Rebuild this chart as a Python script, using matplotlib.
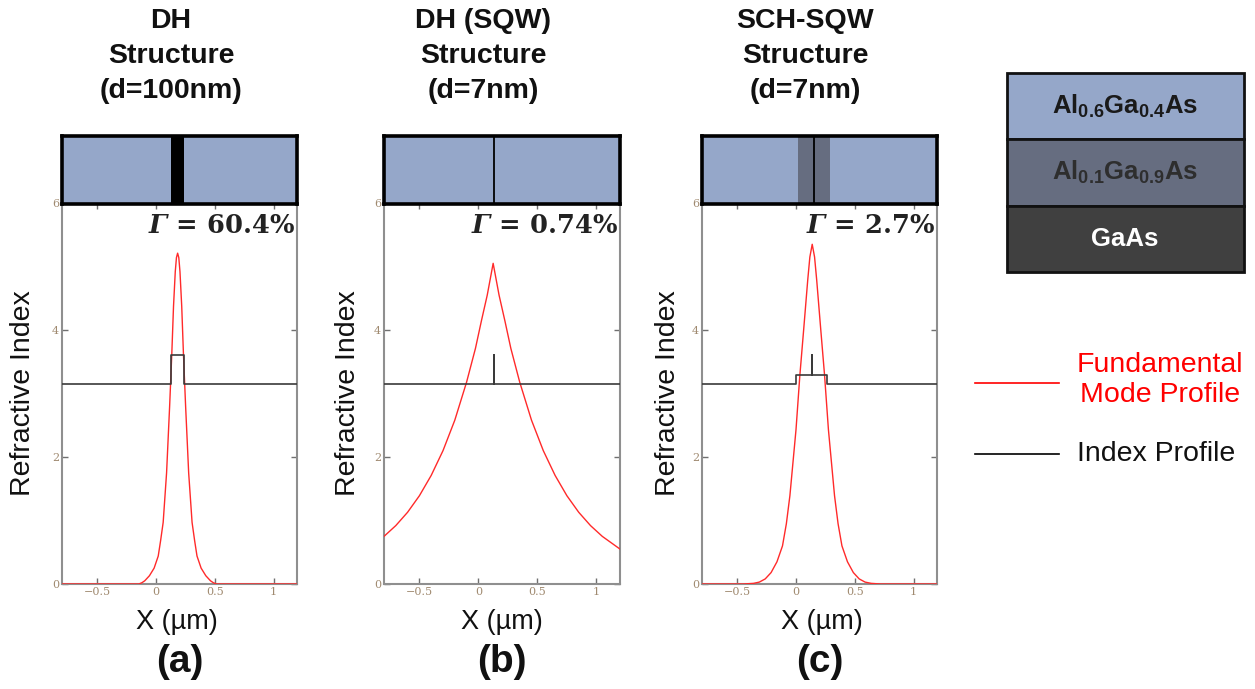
import numpy as np
import matplotlib
matplotlib.use("Agg")
import matplotlib.pyplot as plt
from matplotlib.patches import Rectangle
from matplotlib.lines import Line2D

plt.rcParams['font.family'] = ['Liberation Sans', 'DejaVu Sans']
plt.rcParams['mathtext.fontset'] = 'custom'
plt.rcParams['mathtext.rm'] = 'Liberation Sans'
plt.rcParams['mathtext.bf'] = 'Liberation Sans:bold'

# ---------------- data ----------------
panel_titles = ["DH\nStructure\n(d=100nm)", "DH (SQW)\nStructure\n(d=7nm)", "SCH-SQW\nStructure\n(d=7nm)"]
panel_letters = ["(a)", "(b)", "(c)"]
gamma_labels = ["60.4%", "0.74%", "2.7%"]

x_ticks = [-0.5, 0, 0.5, 1]
x_tick_labels = ["\u22120.5", "0", "0.5", "1"]
y_ticks = [0, 2, 4, 6]
y_tick_labels = ["0", "2", "4", "6"]

# (a) DH, d = 100 nm
mode_a_x = [-0.8, -0.146, -0.12, -0.096, -0.056, -0.016, 0.019, 0.039, 0.061, 0.090, 0.116,
            0.134, 0.149, 0.164, 0.174, 0.184, 0.194, 0.204, 0.219, 0.234, 0.252,
            0.278, 0.307, 0.329, 0.349, 0.384, 0.424, 0.464, 0.488, 0.514, 1.2]
mode_a_y = [0.0, 0.0, 0.02, 0.05, 0.13, 0.25, 0.44, 0.68, 0.97, 1.75, 2.8,
            3.6, 4.37, 4.92, 5.14, 5.21, 5.14, 4.92, 4.37, 3.6, 2.8,
            1.75, 0.97, 0.68, 0.44, 0.25, 0.13, 0.05, 0.02, 0.0, 0.0]
index_a_x = [-0.8, 0.125, 0.125, 0.235, 0.235, 1.2]
index_a_n = [3.15, 3.15, 3.6, 3.6, 3.15, 3.15]

# (b) DH single quantum well, d = 7 nm
mode_b_x = [-0.8, -0.7, -0.6, -0.5, -0.4, -0.3, -0.2, -0.1, -0.025, 0.025,
            0.075, 0.1, 0.125, 0.15, 0.175, 0.225, 0.275, 0.35, 0.45, 0.55,
            0.65, 0.75, 0.85, 0.95, 1.05, 1.2]
mode_b_y = [0.75, 0.92, 1.13, 1.39, 1.71, 2.10, 2.58, 3.18, 3.71, 4.14,
            4.55, 4.80, 5.05, 4.80, 4.55, 4.14, 3.71, 3.18, 2.58, 2.10,
            1.71, 1.39, 1.13, 0.92, 0.75, 0.55]
index_b_x = [-0.8, 0.13, 0.13, 0.13, 1.2]
index_b_n = [3.15, 3.15, 3.6, 3.15, 3.15]

# (c) SCH single quantum well, d = 7 nm
mode_c_x = [-0.8, -0.45, -0.362, -0.312, -0.262, -0.212, -0.162, -0.115, -0.082, -0.052, 0.0, 0.033,
            0.065, 0.100, 0.118, 0.138, 0.158, 0.176, 0.211, 0.243, 0.276, 0.328,
            0.358, 0.391, 0.438, 0.488, 0.538, 0.588, 0.64, 0.72, 1.2]
mode_c_y = [0.0, 0.0, 0.01, 0.03, 0.08, 0.18, 0.35, 0.6, 0.95, 1.39, 2.43, 3.29,
            4.0, 4.79, 5.15, 5.35, 5.15, 4.79, 4.0, 3.29, 2.43, 1.39,
            0.95, 0.6, 0.35, 0.18, 0.08, 0.03, 0.01, 0.0, 0.0]
index_c_x = [-0.8, 0.0, 0.0, 0.14, 0.14, 0.14, 0.267, 0.267, 1.2]
index_c_n = [3.15, 3.15, 3.29, 3.29, 3.6, 3.29, 3.29, 3.15, 3.15]

# schematic layer boxes: (start, end, kind) ; kind: core / sch / qw
layers_a = [(0.125, 0.235, "core")]
layers_b = [(0.13, 0.13, "qw")]
layers_c = [(0.02, 0.29, "sch"), (0.15, 0.15, "qw")]

materials = [r"$\mathbf{Al_{0.6}Ga_{0.4}As}$", r"$\mathbf{Al_{0.1}Ga_{0.9}As}$", "GaAs"]

# ---------------- styling ----------------
W, H = 1255, 689
C_CLAD = "#95a7c9"
C_SCH = "#666d80"
C_GAAS = "#404040"
RED = "#ff2a2a"
IDX = "#3a3a3a"
SPINE = "#8f8f8f"
TICKLAB = "#a08a70"

fig = plt.figure(figsize=(W / 100, H / 100), dpi=100)


def rect(x0, y0, x1, y1):
    return [x0 / W, 1 - y1 / H, (x1 - x0) / W, (y1 - y0) / H]


panels = [
    dict(x0=62, x1=297, mode=(mode_a_x, mode_a_y), idx=(index_a_x, index_a_n), layers=layers_a,
         tcx=171, lcx=177, rix=23),
    dict(x0=384, x1=620, mode=(mode_b_x, mode_b_y), idx=(index_b_x, index_b_n), layers=layers_b,
         tcx=483, lcx=502, rix=348),
    dict(x0=702, x1=937, mode=(mode_c_x, mode_c_y), idx=(index_c_x, index_c_n), layers=layers_c,
         tcx=805, lcx=822, rix=668),
]

PY0, PY1 = 203, 584
BY0 = 136

over = fig.add_axes([0, 0, 1, 1], zorder=-5)
over.set_xlim(0, W)
over.set_ylim(H, 0)
over.axis("off")

for i, p in enumerate(panels):
    ax = fig.add_axes(rect(p["x0"], PY0, p["x1"], PY1))
    ax.plot(p["mode"][0], p["mode"][1], color=RED, lw=1.0, zorder=3)
    ax.plot(p["idx"][0], p["idx"][1], color=IDX, lw=1.2, zorder=4)
    ax.set_xlim(-0.8, 1.2)
    ax.set_ylim(0, 6)
    ax.set_xticks(x_ticks)
    ax.set_xticklabels(x_tick_labels)
    ax.set_yticks(y_ticks)
    ax.set_yticklabels(y_tick_labels)
    ax.tick_params(direction="in", length=4, width=1, color="#707070", top=True, right=True,
                   labelsize=8, labelcolor=TICKLAB, pad=2)
    for lab in ax.get_xticklabels() + ax.get_yticklabels():
        lab.set_family("DejaVu Serif")
    for s in ax.spines.values():
        s.set_color(SPINE)
        s.set_linewidth(1.5)
    ax.text(0.99, 0.94, r"$\mathbfit{\Gamma}$" + " = " + gamma_labels[i], transform=ax.transAxes,
            ha="right", va="center", fontsize=18.5, fontweight="bold", family="DejaVu Serif",
            math_fontfamily="dejavuserif", color="#222222")

    # structure box
    bx = fig.add_axes(rect(p["x0"], BY0, p["x1"], PY0 + 1))
    bx.set_xlim(-0.8, 1.2)
    bx.set_ylim(0, 1)
    bx.set_facecolor(C_CLAD)
    bx.set_xticks([])
    bx.set_yticks([])
    for s in bx.spines.values():
        s.set_color("black")
        s.set_linewidth(2.6)
    for (l0, l1, kind) in p["layers"]:
        if kind == "core":
            bx.axvspan(l0, l1, color="black", lw=0)
        elif kind == "sch":
            bx.axvspan(l0, l1, color=C_SCH, lw=0)
        else:
            bx.axvline(l0, color="black", lw=1.3)

    # texts
    over.text(p["tcx"], 8, panel_titles[i], ha="center", va="top", fontsize=20.5,
              fontweight="bold", linespacing=1.45, color="#111111")
    over.text(p["lcx"], 622, "X (\u00b5m)", ha="center", va="center", fontsize=19.5, color="#111111")
    over.text((p["x0"] + p["x1"]) / 2, 662, panel_letters[i], ha="center", va="center",
              fontsize=28, fontweight="bold", color="#111111")
    over.text(p["rix"], (PY0 + PY1) / 2, "Refractive Index", ha="center", va="center",
              rotation=90, fontsize=20.5, color="#111111")

# legend at right
over.add_line(Line2D([975, 1059], [383, 383], color="red", lw=1.2))
over.text(1160, 380, "Fundamental\nMode Profile", ha="center", va="center", fontsize=20.5,
          color="red", linespacing=1.15)
over.add_line(Line2D([975, 1059], [454, 454], color="black", lw=1.2))
over.text(1077, 454, "Index Profile", ha="left", va="center", fontsize=20.5, color="#111111")

# material legend box
rows = [(73, 139, C_CLAD, "#1a1a1a"), (139, 206, C_SCH, "#2e2e2e"), (206, 272, C_GAAS, "white")]
for (y0, y1, fc, tc), name in zip(rows, materials):
    over.add_patch(Rectangle((1007, y0), 237, y1 - y0, facecolor=fc, edgecolor="#111111", lw=2))
    over.text(1125, (y0 + y1) / 2, name, ha="center", va="center", fontsize=18.5,
              fontweight="bold", color=tc)

fig.savefig("out.png", dpi=100)
